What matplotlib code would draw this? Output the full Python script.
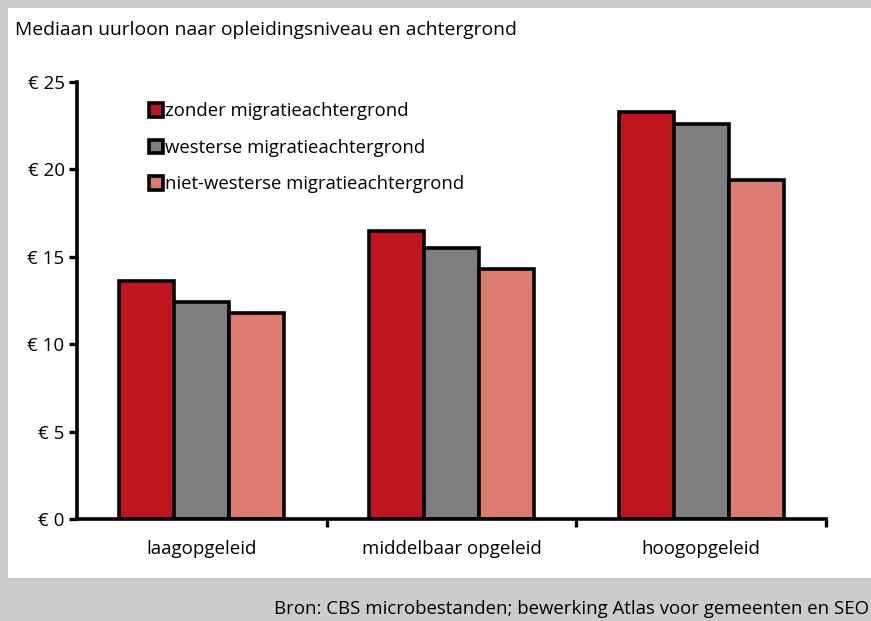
import matplotlib
matplotlib.use("Agg")
import matplotlib.pyplot as plt
from matplotlib.patches import Rectangle
import numpy as np

plt.rcParams['font.family'] = ['Open Sans', 'DejaVu Sans']

categories = ["laagopgeleid", "middelbaar opgeleid", "hoogopgeleid"]
series_names = ["zonder migratieachtergrond", "westerse migratieachtergrond",
                "niet-westerse migratieachtergrond"]
zonder = [13.6, 16.5, 23.3]
westers = [12.4, 15.5, 22.6]
niet_westers = [11.8, 14.3, 19.4]
yticks = [0, 5, 10, 15, 20, 25]
ytick_labels = ["€ 0", "€ 5", "€ 10", "€ 15", "€ 20", "€ 25"]
colors = ["#c0141f", "#7f7f7f", "#de7b70"]

W, H = 871, 621
fig = plt.figure(figsize=(W / 100, H / 100), dpi=100)
fig.patch.set_facecolor("#cccccc")
fig.patches.append(Rectangle((8 / W, 1 - 578 / H), 1.0, (578 - 8) / H,
                             transform=fig.transFigure, facecolor="white",
                             edgecolor="none", zorder=-5))

ax = fig.add_axes([77 / W, 1 - 519 / H, (826 - 77) / W, (519 - 82) / H])
ax.set_facecolor("none")
ax.set_zorder(3)

x = np.arange(len(categories))
w = 0.22
for i, (vals, name) in enumerate(zip([zonder, westers, niet_westers], series_names)):
    ax.bar(x + (i - 1) * w, vals, width=w, color=colors[i], edgecolor="black",
           linewidth=2.6, label=name, zorder=3)

ax.set_xlim(-0.5, 2.5)
ax.set_ylim(0, 25)
ax.set_yticks(yticks)
ax.set_yticklabels(ytick_labels, fontsize=13.5)
ax.set_xticks(x)
ax.set_xticklabels(categories, fontsize=13.5)
ax.set_xticks([0.5, 1.5, 2.5], minor=True)
ax.tick_params(axis="x", which="major", length=0, pad=15)
ax.tick_params(axis="x", which="minor", length=6, width=2.4, direction="out")
ax.tick_params(axis="y", length=6, width=2.4, direction="out", pad=3)
for s in ["top", "right"]:
    ax.spines[s].set_visible(False)
for s in ["left", "bottom"]:
    ax.spines[s].set_linewidth(2.6)
    ax.spines[s].set_zorder(4)

leg = ax.legend(loc="upper left", bbox_to_anchor=(0.086, 0.97), frameon=False,
                fontsize=13.3, handlelength=0.75, handleheight=0.75,
                handletextpad=0.15, labelspacing=1.0, borderaxespad=0)

fig.text(15 / W, 1 - 30 / H, "Mediaan uurloon naar opleidingsniveau en achtergrond",
         fontsize=13.9, va="center", ha="left")
fig.text(869 / W, 1 - 609 / H,
         "Bron: CBS microbestanden; bewerking Atlas voor gemeenten en SEO",
         fontsize=13.4, va="center", ha="right")

fig.savefig("out.png", dpi=100, facecolor=fig.get_facecolor())
